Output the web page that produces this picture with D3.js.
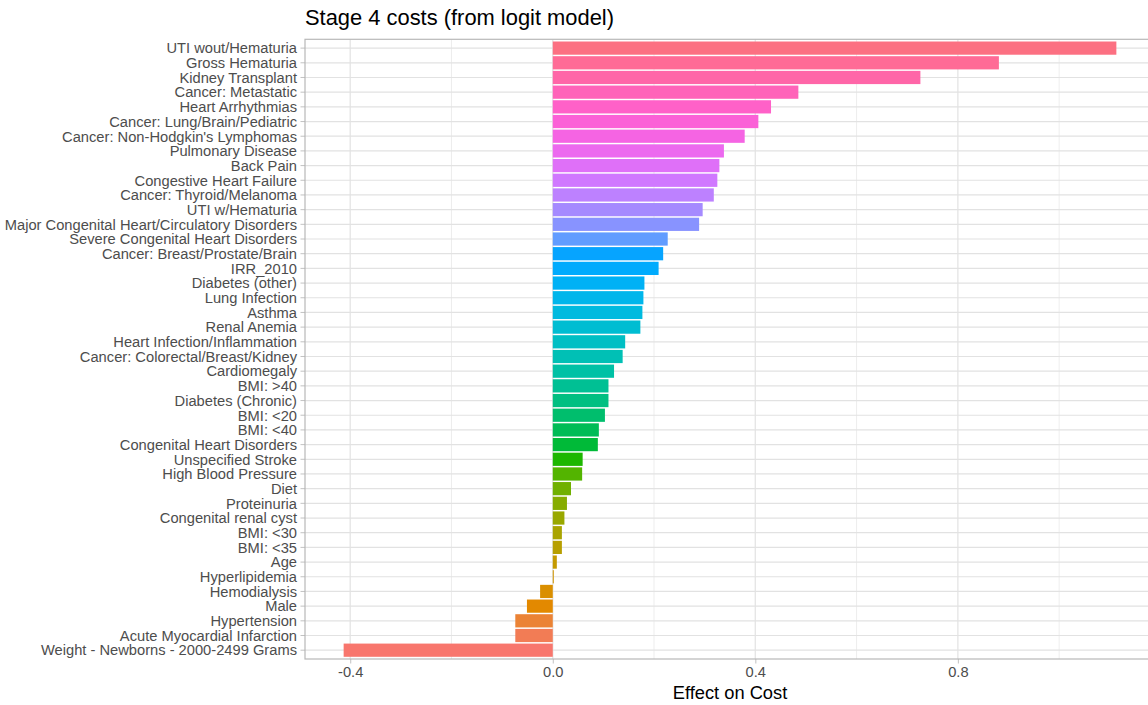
<!DOCTYPE html>
<html>
<head>
<meta charset="utf-8">
<script src="https://cdn.jsdelivr.net/npm/d3@7"></script>
<style>
  html, body { margin: 0; padding: 0; background: #fff; }
  svg { display: block; font-family: "Liberation Sans", Arial, sans-serif; }
</style>
</head>
<body>
<svg id="chart" width="1148" height="705"></svg>
<script>
// Condition labels, listed top to bottom as they appear on the axis
const categories = [
  "UTI wout/Hematuria",
  "Gross Hematuria",
  "Kidney Transplant",
  "Cancer: Metastatic",
  "Heart Arrhythmias",
  "Cancer: Lung/Brain/Pediatric",
  "Cancer: Non-Hodgkin's Lymphomas",
  "Pulmonary Disease",
  "Back Pain",
  "Congestive Heart Failure",
  "Cancer: Thyroid/Melanoma",
  "UTI w/Hematuria",
  "Major Congenital Heart/Circulatory Disorders",
  "Severe Congenital Heart Disorders",
  "Cancer: Breast/Prostate/Brain",
  "IRR_2010",
  "Diabetes (other)",
  "Lung Infection",
  "Asthma",
  "Renal Anemia",
  "Heart Infection/Inflammation",
  "Cancer: Colorectal/Breast/Kidney",
  "Cardiomegaly",
  "BMI: >40",
  "Diabetes (Chronic)",
  "BMI: <20",
  "BMI: <40",
  "Congenital Heart Disorders",
  "Unspecified Stroke",
  "High Blood Pressure",
  "Diet",
  "Proteinuria",
  "Congenital renal cyst",
  "BMI: <30",
  "BMI: <35",
  "Age",
  "Hyperlipidemia",
  "Hemodialysis",
  "Male",
  "Hypertension",
  "Acute Myocardial Infarction",
  "Weight - Newborns - 2000-2499 Grams"
];

// Estimated effect on cost for each label (same order)
const effects = [
  1.113, 0.881, 0.726, 0.485, 0.431, 0.406, 0.379, 0.338, 0.329, 0.325,
  0.318, 0.296, 0.289, 0.227, 0.218, 0.209, 0.181, 0.179, 0.177, 0.173,
  0.143, 0.138, 0.121, 0.110, 0.110, 0.103, 0.091, 0.089, 0.059, 0.058,
  0.036, 0.028, 0.023, 0.018, 0.018, 0.008, 0.002, -0.025, -0.051, -0.074,
  -0.074, -0.413
];

const majorTicks = [-0.4, 0.0, 0.4, 0.8];
const minorTicks = [-0.2, 0.2, 0.6, 1.0];

const titleText = "Stage 4 costs (from logit model)";
const xTitleText = "Effect on Cost";

// Polar LUV -> sRGB hex (same formula as R's hcl())
function hclLuv(h, c, l) {
  const WHITE_Y = 100.0, WHITE_u = 0.1978398, WHITE_v = 0.4683363;
  const hr = h * Math.PI / 180;
  const U = c * Math.cos(hr), V = c * Math.sin(hr);
  const Y = WHITE_Y * (l > 7.999592 ? Math.pow((l + 16) / 116, 3) : l / 903.3);
  const u = U / (13 * l) + WHITE_u;
  const v = V / (13 * l) + WHITE_v;
  const X = 9.0 * Y * u / (4 * v);
  const Z = -X / 3 - 5 * Y + 3 * Y / v;
  const g = t => (t > 0.00304 ? 1.055 * Math.pow(t, 1 / 2.4) - 0.055 : 12.92 * t);
  const clamp = t => Math.max(0, Math.min(1, t));
  const r = g((3.240479 * X - 1.537150 * Y - 0.498535 * Z) / WHITE_Y);
  const gg = g((-0.969256 * X + 1.875992 * Y + 0.041556 * Z) / WHITE_Y);
  const b = g((0.055648 * X - 0.204043 * Y + 1.057311 * Z) / WHITE_Y);
  return d3.rgb(Math.round(clamp(r) * 255), Math.round(clamp(gg) * 255), Math.round(clamp(b) * 255)).formatHex();
}

// Evenly spaced hues, first level (bottom bar) starting at 15 degrees
function huePalette(n) {
  const out = [];
  for (let i = 0; i < n; i++) out.push(hclLuv(15 + 360 * i / n, 100, 65));
  return out;
}

const n = categories.length;
const palette = huePalette(n);
const rows = categories.map((name, i) => ({ name, value: effects[i], color: palette[n - 1 - i] }));

const panel = { left: 305, right: 1155, top: 39.3, bottom: 659 };

const lo = d3.min(effects), hi = d3.max(effects);
const pad = (hi - lo) * 0.05;
const x = d3.scaleLinear().domain([lo - pad, hi + pad]).range([panel.left, panel.right]);
const y = d3.scaleBand().domain(categories).range([panel.top, panel.bottom])
  .paddingInner(0.1).paddingOuter(0.15);

const svg = d3.select("#chart");
const tickFont = "14.7px";

// Grid
const grid = svg.append("g");
grid.selectAll("line.minor").data(minorTicks).join("line")
  .attr("x1", d => x(d)).attr("x2", d => x(d))
  .attr("y1", panel.top).attr("y2", panel.bottom)
  .attr("stroke", "#E8E8E8").attr("stroke-width", 0.8);
grid.selectAll("line.majorx").data(majorTicks).join("line")
  .attr("x1", d => x(d)).attr("x2", d => x(d))
  .attr("y1", panel.top).attr("y2", panel.bottom)
  .attr("stroke", "#E6E6E6").attr("stroke-width", 1.4);
grid.selectAll("line.majory").data(categories).join("line")
  .attr("x1", panel.left).attr("x2", panel.right)
  .attr("y1", d => y(d) + y.bandwidth() / 2).attr("y2", d => y(d) + y.bandwidth() / 2)
  .attr("stroke", "#E2E2E2").attr("stroke-width", 1.2);

// Bars
svg.append("g").selectAll("rect").data(rows).join("rect")
  .attr("x", d => x(Math.min(0, d.value)))
  .attr("width", d => Math.abs(x(d.value) - x(0)))
  .attr("y", d => y(d.name))
  .attr("height", y.bandwidth())
  .attr("fill", d => d.color);

// Panel border
svg.append("rect")
  .attr("x", panel.left).attr("y", panel.top)
  .attr("width", panel.right - panel.left).attr("height", panel.bottom - panel.top)
  .attr("fill", "none").attr("stroke", "#B8B8B8").attr("stroke-width", 1.2);

// Y axis
const yAxis = d3.axisLeft(y).tickSize(4.5).tickPadding(3.5);
const gy = svg.append("g").attr("transform", `translate(${panel.left},0)`).call(yAxis);
gy.select(".domain").remove();
gy.selectAll(".tick line").attr("stroke", "#B3B3B3").attr("stroke-width", 0.8);
gy.selectAll(".tick text").attr("fill", "#4D4D4D").attr("dy", "0.36em")
  .style("font-size", tickFont).style("font-family", "'Liberation Sans', Arial, sans-serif");

// X axis
const xAxis = d3.axisBottom(x).tickValues(majorTicks).tickFormat(d3.format(".1f"))
  .tickSize(4.5).tickPadding(3.5);
const gx = svg.append("g").attr("transform", `translate(0,${panel.bottom})`).call(xAxis);
gx.select(".domain").remove();
gx.selectAll(".tick line").attr("stroke", "#B3B3B3").attr("stroke-width", 0.8);
gx.selectAll(".tick text").attr("fill", "#4D4D4D")
  .style("font-size", tickFont).style("font-family", "'Liberation Sans', Arial, sans-serif")
  .text(d => d3.format(".1f")(d).replace("−", "-"));

// Axis title
svg.append("text")
  .attr("x", (panel.left + panel.right) / 2).attr("y", 699)
  .attr("text-anchor", "middle").attr("fill", "#000")
  .style("font-size", "18.3px").text(xTitleText);

// Chart title
svg.append("text")
  .attr("x", panel.left).attr("y", 25)
  .attr("fill", "#000").style("font-size", "21.9px").text(titleText);
</script>
</body>
</html>
